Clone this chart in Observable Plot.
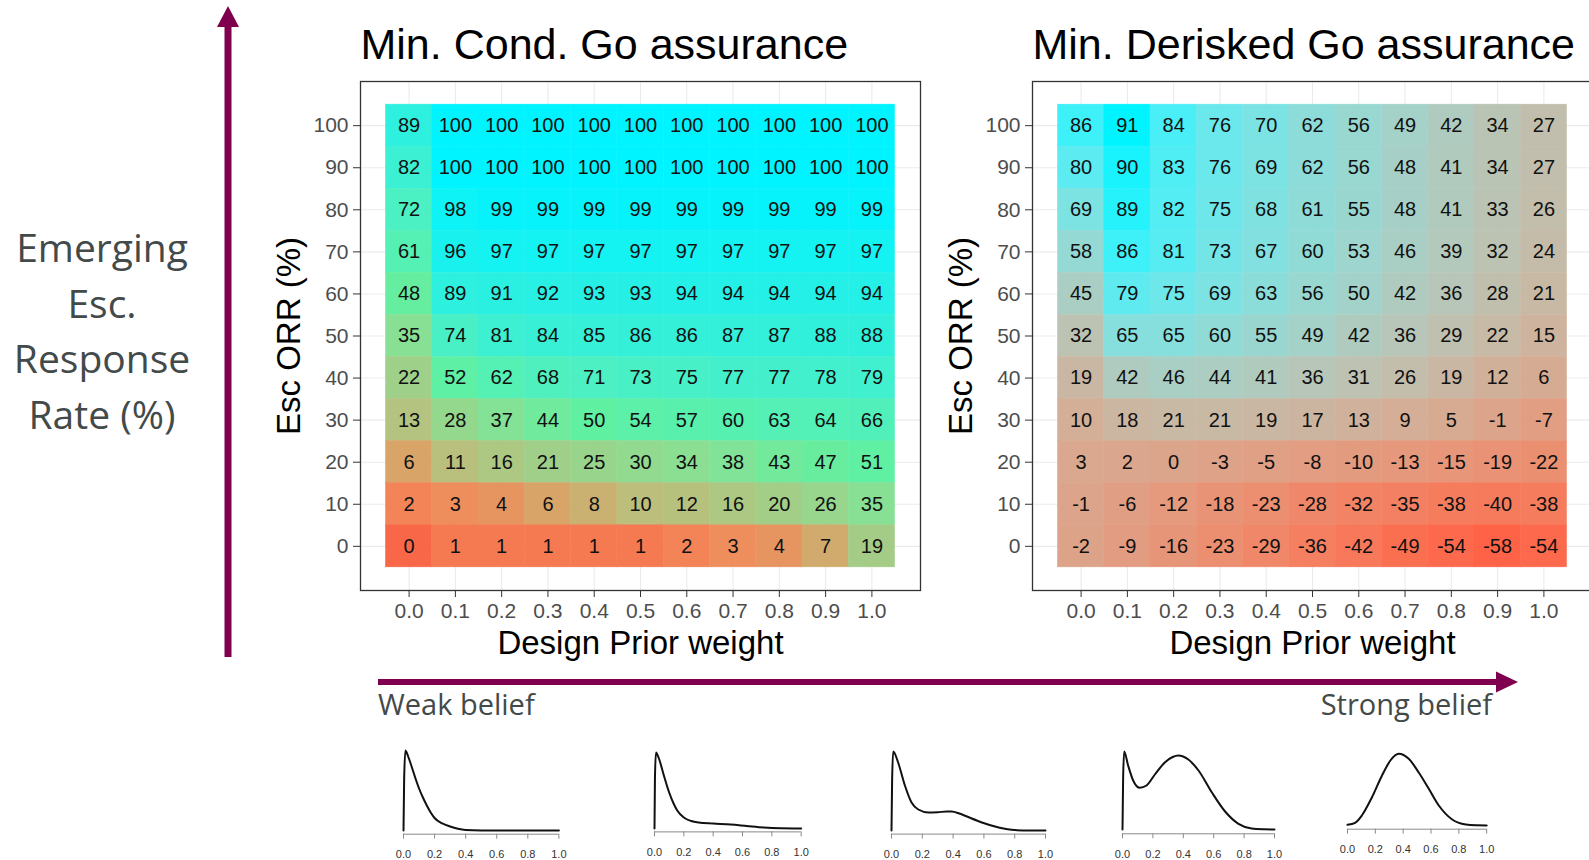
<!DOCTYPE html>
<html>
<head>
<meta charset="utf-8">
<script src="https://cdn.jsdelivr.net/npm/d3@7"></script>
<script src="https://cdn.jsdelivr.net/npm/@observablehq/plot@0.6"></script>
<style>
html, body { margin: 0; padding: 0; background: #fff; }
#root { position: relative; width: 1589px; height: 860px; overflow: hidden; background: #fff; }
.abs { position: absolute; }
.side { font-family: "Open Sans", sans-serif; color: #434a4a; white-space: nowrap; }
</style>
</head>
<body>
<div id="root"></div>
<script>
// ---------- data ----------
const weights = [0, 0.1, 0.2, 0.3, 0.4, 0.5, 0.6, 0.7, 0.8, 0.9, 1.0];
const orrLevels = [100, 90, 80, 70, 60, 50, 40, 30, 20, 10, 0];
const weightTicks = [0, 0.1, 0.2, 0.3, 0.4, 0.5, 0.6, 0.7, 0.8, 0.9, 1.0];
const orrTicks = [0, 10, 20, 30, 40, 50, 60, 70, 80, 90, 100];
const densityTicks = [0, 0.2, 0.4, 0.6, 0.8, 1.0];

const titleCond = "Min. Cond. Go assurance";
const titleDerisk = "Min. Derisked Go assurance";
const xTitle = "Design Prior weight";
const yTitle = "Esc ORR (%)";

// Min. Cond. Go assurance, rows ORR 100 -> 0, columns weight 0.0 -> 1.0
const condGo = [
  [89, 100, 100, 100, 100, 100, 100, 100, 100, 100, 100],
  [82, 100, 100, 100, 100, 100, 100, 100, 100, 100, 100],
  [72, 98, 99, 99, 99, 99, 99, 99, 99, 99, 99],
  [61, 96, 97, 97, 97, 97, 97, 97, 97, 97, 97],
  [48, 89, 91, 92, 93, 93, 94, 94, 94, 94, 94],
  [35, 74, 81, 84, 85, 86, 86, 87, 87, 88, 88],
  [22, 52, 62, 68, 71, 73, 75, 77, 77, 78, 79],
  [13, 28, 37, 44, 50, 54, 57, 60, 63, 64, 66],
  [6, 11, 16, 21, 25, 30, 34, 38, 43, 47, 51],
  [2, 3, 4, 6, 8, 10, 12, 16, 20, 26, 35],
  [0, 1, 1, 1, 1, 1, 2, 3, 4, 7, 19]
];

// Min. Derisked Go assurance
const deriskGo = [
  [86, 91, 84, 76, 70, 62, 56, 49, 42, 34, 27],
  [80, 90, 83, 76, 69, 62, 56, 48, 41, 34, 27],
  [69, 89, 82, 75, 68, 61, 55, 48, 41, 33, 26],
  [58, 86, 81, 73, 67, 60, 53, 46, 39, 32, 24],
  [45, 79, 75, 69, 63, 56, 50, 42, 36, 28, 21],
  [32, 65, 65, 60, 55, 49, 42, 36, 29, 22, 15],
  [19, 42, 46, 44, 41, 36, 31, 26, 19, 12, 6],
  [10, 18, 21, 21, 19, 17, 13, 9, 5, -1, -7],
  [3, 2, 0, -3, -5, -8, -10, -13, -15, -19, -22],
  [-1, -6, -12, -18, -23, -28, -32, -35, -38, -40, -38],
  [-2, -9, -16, -23, -29, -36, -42, -49, -54, -58, -54]
];

// prior densities (heights)
const dens1X = [0, 0.004, 0.012, 0.03, 0.05, 0.075, 0.1, 0.125, 0.15, 0.175, 0.2, 0.25, 0.3, 0.35, 0.4, 0.5, 0.7, 1.0];
const dens1Y = [0, 50, 80, 74, 65, 53, 42, 33, 25, 18, 12.5, 7, 4, 1.8, 0.6, 0.1, 0, 0];
const dens2X = [0, 0.003, 0.01, 0.03, 0.064, 0.1, 0.13, 0.155, 0.2, 0.25, 0.3, 0.4, 0.52, 0.63, 0.745, 0.86, 1.0];
const dens2Y = [0, 50, 76, 70, 53, 36, 25, 18, 11, 7.5, 6, 5, 4, 2.5, 1, 0.3, 0.1];
const dens3X = [0, 0.004, 0.011, 0.043, 0.087, 0.13, 0.174, 0.24, 0.3, 0.36, 0.39, 0.44, 0.478, 0.587, 0.696, 0.8, 0.9, 1.0];
const dens3Y = [0, 50, 79, 68, 45, 28, 21, 18, 18.3, 19, 19, 17, 14.7, 8, 3, 0.4, 0, 0];
const dens4X = [0, 0.004, 0.011, 0.037, 0.07, 0.114, 0.158, 0.213, 0.28, 0.33, 0.367, 0.433, 0.5, 0.587, 0.675, 0.763, 0.85, 0.93, 1.0];
const dens4Y = [0, 50, 78, 64, 49, 41.7, 44, 55, 67.3, 72.5, 74, 70, 59, 37.3, 18, 5.7, 1, 0.2, 0];
const dens5X = [0, 0.055, 0.103, 0.175, 0.248, 0.308, 0.368, 0.44, 0.512, 0.584, 0.656, 0.752, 0.85, 0.93, 1.0];
const dens5Y = [0.7, 2.7, 10, 28, 50, 65, 71.7, 66.7, 53, 36.7, 20, 6, 1, 0.2, 0];

const sideLines = ["Emerging", "Esc.", "Response", "Rate (%)"];
const weakLabel = "Weak belief";
const strongLabel = "Strong belief";

// ---------- layout ----------
const root = document.getElementById("root");
const ARROW = "#800050";

const svgNS = "http://www.w3.org/2000/svg";
const deco = document.createElementNS(svgNS, "svg");
deco.setAttribute("width", 1589);
deco.setAttribute("height", 860);
deco.setAttribute("class", "abs");
deco.style.left = "0px"; deco.style.top = "0px";
deco.innerHTML = `
  <line x1="228" y1="657" x2="228" y2="22" stroke="${ARROW}" stroke-width="7"/>
  <polygon points="228,6 217,27 239,27" fill="${ARROW}"/>
  <line x1="378" y1="682" x2="1500" y2="682" stroke="${ARROW}" stroke-width="6"/>
  <polygon points="1518,682 1496,671.5 1496,692.5" fill="${ARROW}"/>`;
root.appendChild(deco);

const side = document.createElement("div");
side.className = "abs side";
side.style.cssText += "left:0px;top:219px;width:204px;text-align:center;font-size:39px;line-height:55.6px;";
side.innerHTML = sideLines.join("<br>");
root.appendChild(side);

function addLabel(text, css) {
  const d = document.createElement("div");
  d.className = "abs side";
  d.textContent = text;
  d.style.cssText += "font-size:29px;line-height:29px;" + css;
  root.appendChild(d);
}
addLabel(weakLabel, "left:378px;top:689px;");
addLabel(strongLabel, "right:97px;top:689px;");

function heatmap(values, color, left, title) {
  const data = [];
  orrLevels.forEach((o, i) => weights.forEach((w, j) => data.push({w, o, v: values[i][j]})));
  const p = Plot.plot({
    width: 662, height: 679,
    marginLeft: 100, marginRight: 2, marginTop: 81, marginBottom: 89,
    style: {background: "transparent", fontFamily: "'Liberation Sans', Arial, sans-serif", overflow: "visible"},
    x: {domain: [-0.105, 1.105], axis: null},
    y: {domain: [-10.5, 110.5], axis: null},
    color,
    marks: [
      Plot.gridX(weightTicks, {stroke: "#ebebeb", strokeOpacity: 1, strokeWidth: 1.1}),
      Plot.gridY(orrTicks, {stroke: "#ebebeb", strokeOpacity: 1, strokeWidth: 1.1}),
      Plot.rect(data, {x1: d => d.w - 0.05, x2: d => d.w + 0.05, y1: d => d.o - 5, y2: d => d.o + 5, fill: "v", stroke: "v", strokeWidth: 0.5}),
      Plot.text(data, {x: "w", y: "o", text: d => String(d.v), fontSize: 20, fill: "#111"}),
      Plot.frame({stroke: "#333", strokeWidth: 1.3}),
      Plot.axisX(weightTicks, {tickSize: 7, tickPadding: 6, fontSize: 21, tickFormat: d3.format(".1f"), stroke: "#333", fill: "#4d4d4d", label: null}),
      Plot.axisY(orrTicks, {tickSize: 7, tickPadding: 5, fontSize: 21, stroke: "#333", fill: "#4d4d4d", label: null}),
      Plot.text([xTitle], {frameAnchor: "bottom", dy: 63, fontSize: 33, fill: "#000"}),
      Plot.text([yTitle], {x: [-0.258], y: [50], rotate: -90, fontSize: 33, fill: "#000"}),
      Plot.text([title], {frameAnchor: "top-left", dy: -53, textAnchor: "start", fontSize: 43, fill: "#000"})
    ]
  });
  p.classList.add("abs");
  p.style.left = left + "px";
  p.style.top = "0px";
  root.appendChild(p);
}

heatmap(condGo, {
  type: "linear",
  domain: [0, 1, 3, 6, 10, 20, 35, 50, 75, 88, 94, 97, 100],
  range: ["#f86848", "#f57a52", "#ee8e5c", "#d8a468", "#bcbe7c", "#a2ce88", "#88e094", "#60f0a2", "#48f0c8", "#30f0dc", "#24f0e8", "#14f2f2", "#00f4ff"],
  interpolate: "rgb"
}, 260, titleCond);

heatmap(deriskGo, {
  type: "linear",
  domain: [-58, 91],
  range: ["#ff6347", "#00f4ff"],
  interpolate: "lab"
}, 932, titleDerisk);

function density(xs, ys, x0, x1, bl, ax) {
  const d = ax - bl;
  const data = xs.map((x, i) => ({x, y: ys[i]}));
  const H = 130;
  const p = Plot.plot({
    width: (x1 - x0) + 30, height: H,
    marginLeft: 15, marginRight: 15, marginTop: 10, marginBottom: H - (95 + d),
    style: {background: "transparent", fontFamily: "'Liberation Sans', Arial, sans-serif", overflow: "visible"},
    x: {domain: [0, 1], axis: null},
    y: {domain: [-d, 85], range: [95 + d, 10], axis: null},
    marks: [
      Plot.ruleY([-d], {x1: 0, x2: 1, stroke: "#8a8a8a", strokeWidth: 1}),
      Plot.axisX(densityTicks, {tickSize: 5, tickPadding: 11, fontSize: 11, tickFormat: d3.format(".1f"), stroke: "#8a8a8a", fill: "#333", label: null}),
      Plot.line(data, {x: "x", y: "y", curve: "monotone-x", stroke: "#111", strokeWidth: 2})
    ]
  });
  p.classList.add("abs");
  p.style.left = (x0 - 15) + "px";
  p.style.top = (bl - 95) + "px";
  root.appendChild(p);
}

density(dens1X, dens1Y, 403.3, 558.7, 830, 833.7);
density(dens2X, dens2Y, 654, 800.7, 828.3, 831.7);
density(dens3X, dens3Y, 890.5, 1044.5, 829.7, 833.3);
density(dens4X, dens4Y, 1122, 1274, 829, 833.3);
density(dens5X, dens5Y, 1346.5, 1485.7, 825, 828.7);
</script>
</body>
</html>
